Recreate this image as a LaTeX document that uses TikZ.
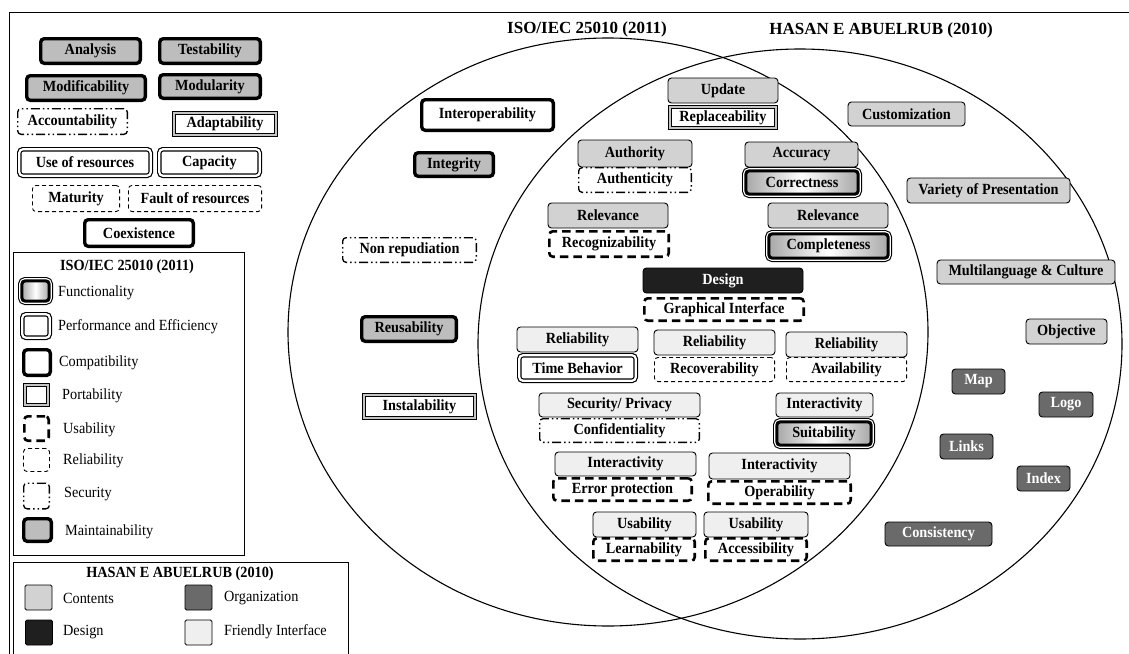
\documentclass[tikz,border=0pt]{standalone}
\usepackage{fontspec}
\setmainfont{Liberation Serif}[FakeStretch=0.92]
\newfontfamily\titlefont{Liberation Serif}
\definecolor{maintfill}{HTML}{BDBDBD}
\definecolor{contfill}{HTML}{D2D2D2}
\definecolor{friendfill}{HTML}{EFEFEF}
\definecolor{orgfill}{HTML}{6A6A6A}
\definecolor{designfill}{HTML}{1F1F1F}
\definecolor{portgray}{HTML}{C4C4C4}
\definecolor{funcshade}{HTML}{A8A8A8}
\tikzset{
  bx/.style={rectangle, rounded corners=3.5pt, inner sep=0pt, draw=black, fill=white,
    line width=0.9pt, font=\bfseries\fontsize{15.5}{15.5}\selectfont},
  maint/.style={bx, line width=3.4pt, fill=maintfill},
  compat/.style={bx, line width=3.4pt},
  perf/.style={bx, line width=1.2pt, double=white, double distance=2.2pt},
  port/.style={bx, sharp corners, line width=0.8pt, double=portgray, double distance=2.6pt},
  usab/.style={bx, line width=2.6pt, dash pattern=on 8.5pt off 5pt},
  relia/.style={bx, line width=0.9pt, dash pattern=on 4pt off 3pt},
  secur/.style={bx, line width=1.3pt, dash pattern=on 9pt off 3pt on 1.5pt off 3pt on 1.5pt off 3pt},
  func/.style={bx, line width=3pt, left color=funcshade, right color=funcshade, middle color=white,
    preaction={draw=black, line width=7.6pt},
    preaction={draw=white, line width=5.4pt}},
  cont/.style={bx, fill=contfill},
  friend/.style={bx, fill=friendfill},
  org/.style={bx, fill=orgfill, text=white},
  dsg/.style={bx, fill=designfill, text=white},
  swatch/.style={rectangle, rounded corners=1.5pt, draw=black, line width=0.9pt,
    minimum width=27pt, minimum height=25pt, inner sep=0pt},
  legtext/.style={anchor=west, inner sep=0pt, font=\fontsize{15.5}{15.5}\selectfont},
  legtitle/.style={inner sep=0pt, font=\bfseries\fontsize{15.5}{15.5}\selectfont},
  settitle/.style={anchor=base, inner sep=0pt, font=\titlefont\bfseries\fontsize{17}{17}\selectfont},
  setline/.style={line width=1.1pt}
}
\begin{document}
\begin{tikzpicture}[x=1pt,y=-1pt]
\useasboundingbox (0,0) rectangle (1129,653);
\fill[white] (0,0) rectangle (1129,653);

% frame
\draw[line width=0.9pt] (9,656) -- (9,12) -- (1131,12);

% the two sets
\draw[setline] (608,332) ellipse [x radius=320pt, y radius=294pt];
\draw[setline] (800,344) ellipse [x radius=322pt, y radius=295pt];
\node[settitle] (isotitle) at (587,33) {ISO/IEC 25010 (2011)};
\node[settitle] (hasantitle) at (881,34) {HASAN E ABUELRUB (2010)};

% characteristics outside both sets
\node[maint, minimum width=99.6pt, minimum height=24.6pt] (analysis) at (90.5,51) {Analysis};
\node[maint, minimum width=100.6pt, minimum height=24.6pt] (testab) at (210,51) {Testability};
\node[maint, minimum width=118.6pt, minimum height=24.6pt] (modif) at (86,88) {Modificability};
\node[maint, minimum width=100.6pt, minimum height=23.6pt] (modul) at (210,86.5) {Modularity};
\node[secur, minimum width=109.7pt, minimum height=25.7pt] (account) at (72.5,121.5) {Accountability};
\node[port, minimum width=101.8pt, minimum height=21.8pt] (adapt) at (225,124) {Adaptability};
\node[perf, minimum width=131.4pt, minimum height=26.4pt] (useres) at (85,162.5) {Use of resources};
\node[perf, minimum width=100.4pt, minimum height=26.4pt] (capac) at (209.5,162.5) {Capacity};
\node[relia, minimum width=87.1pt, minimum height=26.1pt] (matur) at (76,198.5) {Maturity};
\node[relia, minimum width=133.1pt, minimum height=26.1pt] (fault) at (195,198.5) {Fault of resources};
\node[compat, minimum width=108.6pt, minimum height=26.6pt] (coexist) at (139,233) {Coexistence};

% legend: ISO/IEC 25010
\draw[line width=0.9pt] (13,252) rectangle (244,555);
\node[legtitle] (isoleg) at (127,267) {ISO/IEC 25010 (2011)};
\node[func, minimum width=27.4pt, minimum height=20.4pt] (lgfunc) at (35.5,291) {};
\node[legtext] (lgfunct) at (58,293) {Functionality};
\node[perf, minimum width=27.4pt, minimum height=23.4pt] (lgperf) at (36,326) {};
\node[legtext] (lgperft) at (58,327) {Performance and Efficiency};
\node[compat, minimum width=26.6pt, minimum height=25.6pt] (lgcomp) at (37,362.5) {};
\node[legtext] (lgcompt) at (59,363) {Compatibility};
\node[port, minimum width=22.8pt, minimum height=19.8pt] (lgport) at (36.5,395) {};
\node[legtext] (lgportt) at (62,396) {Portability};
\node[usab, minimum width=24.4pt, minimum height=24.4pt] (lgusab) at (36.5,428.5) {};
\node[legtext] (lgusabt) at (63,430) {Usability};
\node[relia, minimum width=26pt, minimum height=23pt] (lgrel) at (36.5,460) {};
\node[legtext] (lgrelt) at (63,461) {Reliability};
\node[secur, minimum width=25.7pt, minimum height=25.7pt] (lgsec) at (36.5,496) {};
\node[legtext] (lgsect) at (64,494) {Security};
\node[maint, minimum width=27.6pt, minimum height=22.6pt] (lgmaint) at (37.5,530) {};
\node[legtext] (lgmaintt) at (65,532) {Maintainability};

% legend: Abuelrub
\draw[line width=0.9pt] (13,562) rectangle (348,658);
\node[legtitle] (hasleg) at (180,574) {HASAN E ABUELRUB (2010)};
\node[swatch, fill=contfill] (lgcont) at (38.5,597.5) {};
\node[legtext] (lgcontt) at (63,598) {Contents};
\node[swatch, fill=orgfill] (lgorg) at (198.5,597.5) {};
\node[legtext] (lgorgt) at (224,598) {Organization};
\node[swatch, fill=designfill] (lgdes) at (39,632.5) {};
\node[legtext] (lgdest) at (63,632) {Design};
\node[swatch, fill=friendfill] (lgfri) at (198.5,632.5) {};
\node[legtext] (lgfrit) at (224,632) {Friendly Interface};

% ISO/IEC 25010 only
\node[compat, minimum width=131.6pt, minimum height=30.6pt] (interop) at (487.5,115) {Interoperability};
\node[maint, minimum width=78.6pt, minimum height=23.6pt] (integ) at (454,164.5) {Integrity};
\node[secur, minimum width=133.7pt, minimum height=24.7pt] (nonrep) at (409.5,250) {Non repudiation};
\node[maint, minimum width=94.6pt, minimum height=24.6pt] (reusab) at (409,329) {Reusability};
\node[port, minimum width=110.8pt, minimum height=22.8pt] (instal) at (419.5,406.5) {Instalability};

% shared characteristics
\node[cont, minimum width=110pt, minimum height=25pt] (update) at (723,90.5) {Update};
\node[port, minimum width=105.8pt, minimum height=20.8pt] (replace) at (723,117.5) {Replaceability};
\node[cont, minimum width=114pt, minimum height=27pt] (author) at (635,153.5) {Authority};
\node[secur, minimum width=112.7pt, minimum height=24.7pt] (authent) at (635,180) {Authenticity};
\node[cont, minimum width=113pt, minimum height=25pt] (accur) at (801.5,154.5) {Accuracy};
\node[func, minimum width=112.4pt, minimum height=23.4pt] (correct) at (802,182.5) {Correctness};
\node[cont, minimum width=120pt, minimum height=25pt] (relevl) at (608,215.5) {Relevance};
\node[usab, minimum width=119.4pt, minimum height=25.4pt] (recog) at (609,244) {Recognizability};
\node[cont, minimum width=120pt, minimum height=25pt] (relevr) at (828,215.5) {Relevance};
\node[func, minimum width=119.4pt, minimum height=24.4pt] (complete) at (828.5,246) {Completeness};
\node[dsg, minimum width=160pt, minimum height=25pt] (design) at (723,280.5) {Design};
\node[usab, minimum width=159.4pt, minimum height=22.4pt] (graph) at (724,309.5) {Graphical Interface};
\node[friend, minimum width=121pt, minimum height=25pt] (rela) at (577.5,339.5) {Reliability};
\node[perf, minimum width=116.4pt, minimum height=25.4pt] (timebeh) at (577.5,368) {Time Behavior};
\node[friend, minimum width=121pt, minimum height=25pt] (relb) at (714.5,342.5) {Reliability};
\node[relia, minimum width=120.1pt, minimum height=24.1pt] (recover) at (714.5,369.5) {Recoverability};
\node[friend, minimum width=121pt, minimum height=25pt] (relc) at (846.5,344.5) {Reliability};
\node[relia, minimum width=120.1pt, minimum height=24.1pt] (avail) at (846.5,369.5) {Availability};
\node[friend, minimum width=161pt, minimum height=24pt] (secpriv) at (619.5,405) {Security/ Privacy};
\node[secur, minimum width=159.7pt, minimum height=23.7pt] (confid) at (619.5,430.5) {Confidentiality};
\node[friend, minimum width=97pt, minimum height=24pt] (intera) at (824.5,405) {Interactivity};
\node[func, minimum width=94.4pt, minimum height=23.4pt] (suit) at (824,433.5) {Suitability};
\node[friend, minimum width=141pt, minimum height=24pt] (interb) at (625.5,464) {Interactivity};
\node[usab, minimum width=138.4pt, minimum height=22.4pt] (errprot) at (622.5,489.5) {Error protection};
\node[friend, minimum width=141pt, minimum height=26pt] (interc) at (779.5,466) {Interactivity};
\node[usab, minimum width=142.4pt, minimum height=22.4pt] (operab) at (779.5,492.5) {Operability};
\node[friend, minimum width=103pt, minimum height=25pt] (usaba) at (644.5,524.5) {Usability};
\node[usab, minimum width=101.4pt, minimum height=22.4pt] (learn) at (644,549.5) {Learnability};
\node[friend, minimum width=104pt, minimum height=25pt] (usabb) at (756,524.5) {Usability};
\node[usab, minimum width=101.4pt, minimum height=22.4pt] (access) at (756,549.5) {Accessibility};

% Abuelrub only
\node[cont, minimum width=117pt, minimum height=24pt] (custom) at (906.5,114) {Customization};
\node[cont, minimum width=163pt, minimum height=25pt] (variety) at (988.5,190.5) {Variety of Presentation};
\node[cont, minimum width=178pt, minimum height=24pt] (multi) at (1026,272) {Multilanguage \& Culture};
\node[cont, minimum width=81pt, minimum height=25pt] (object) at (1066.5,331.5) {Objective};
\node[org, minimum width=53pt, minimum height=25pt] (map) at (978.5,381.5) {Map};
\node[org, minimum width=54pt, minimum height=25pt] (logo) at (1066,404.5) {Logo};
\node[org, minimum width=53pt, minimum height=25pt] (links) at (966.5,446.5) {Links};
\node[org, minimum width=53pt, minimum height=25pt] (index) at (1043.5,478.5) {Index};
\node[org, minimum width=107pt, minimum height=24pt] (consist) at (938.5,534) {Consistency};
\end{tikzpicture}
\end{document}
